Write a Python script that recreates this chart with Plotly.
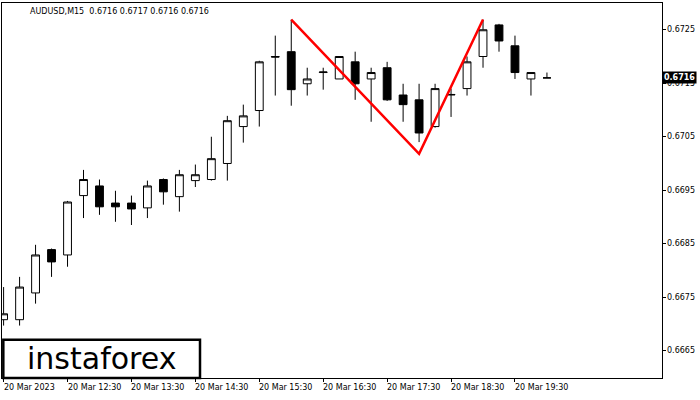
import plotly.graph_objects as go

opens  = [0.66708,0.66708,0.66758,0.66839,0.66829,0.6694,0.66958,0.66926,0.66926,0.66917,0.6697,0.66938,0.66968,0.6697,0.6700,0.67069,0.67099,0.6720,0.67209,0.67149,0.6717,0.67158,0.6719,0.67158,0.67179,0.67128,0.67119,0.67069,0.67128,0.6714,0.6720,0.67259,0.6722,0.67158,0.6716]
highs  = [0.66769,0.66788,0.66848,0.66841,0.6693,0.66988,0.6697,0.66949,0.6694,0.66968,0.66972,0.66988,0.66998,0.6705,0.67089,0.6711,0.67192,0.67239,0.67269,0.67179,0.67179,0.6720,0.67209,0.67179,0.6719,0.67149,0.67149,0.67149,0.6714,0.6720,0.67269,0.67261,0.67239,0.6717,0.6717]
lows   = [0.66697,0.66697,0.66738,0.66788,0.66807,0.66898,0.66904,0.66891,0.66885,0.66898,0.66923,0.6691,0.66956,0.66968,0.66968,0.67039,0.67069,0.67127,0.67108,0.67127,0.67138,0.67158,0.67119,0.67078,0.67117,0.67078,0.6704,0.67067,0.67087,0.67127,0.67179,0.67209,0.67158,0.67127,0.6716]
closes = [0.66719,0.66769,0.66829,0.66816,0.66928,0.6697,0.66919,0.66919,0.66915,0.66958,0.66947,0.66979,0.66979,0.67009,0.6708,0.67089,0.6719,0.67199,0.67138,0.67158,0.67171,0.6720,0.67149,0.6717,0.67119,0.6711,0.67057,0.6714,0.67129,0.6719,0.6725,0.67229,0.6717,0.6717,0.6716]
pattern_idx = [18, 26, 30]
pattern_px = [0.67269, 0.67018, 0.67269]
last_price = 0.6716
tick_idx = [0, 4, 8, 12, 16, 20, 24, 28, 32]
tick_text = ["20 Mar 2023","20 Mar 12:30","20 Mar 13:30","20 Mar 14:30","20 Mar 15:30","20 Mar 16:30","20 Mar 17:30","20 Mar 18:30","20 Mar 19:30"]
y_ticks = [0.6665, 0.6675, 0.6685, 0.6695, 0.6705, 0.6715, 0.6725]

x = list(range(len(opens)))
fig = go.Figure()
fig.add_trace(go.Candlestick(x=x, open=opens, high=highs, low=lows, close=closes,
    increasing=dict(fillcolor="white", line=dict(color="black", width=1)),
    decreasing=dict(fillcolor="black", line=dict(color="black", width=1)),
    whiskerwidth=0, showlegend=False, hoverinfo="skip"))
fig.add_trace(go.Scatter(x=pattern_idx, y=pattern_px, mode="lines",
    line=dict(color="red", width=2.5), showlegend=False, hoverinfo="skip"))
fig.add_hline(y=last_price, line=dict(color="black", width=1))

font = dict(family="DejaVu Sans", size=8, color="black")
ann = []
for i, t in zip(tick_idx, tick_text):
    ann.append(dict(text=t, x=i, xref="x", y=0, yref="paper", xanchor="left", yanchor="top",
                    yshift=-3, xshift=-2, showarrow=False, font=font))
for v in y_ticks:
    ann.append(dict(text=f"{v:.4f}", x=1, xref="paper", y=v, yref="y", xanchor="left",
                    yanchor="middle", xshift=3, showarrow=False, font=font))
ann += [
    dict(text="AUDUSD,M15  0.6716 0.6717 0.6716 0.6716", xref="paper", yref="paper",
         x=0.04, y=0.995, xanchor="left", yanchor="top", showarrow=False, font=font),
    dict(text="instaforex", xref="paper", yref="paper", x=0.15, y=0.051,
         xanchor="center", yanchor="middle", showarrow=False,
         font=dict(family="DejaVu Sans", size=30, color="black")),
    dict(text="<b>0.6716</b>", xref="paper", yref="y", x=1.0, y=last_price, xanchor="left",
         yanchor="middle", showarrow=False, bgcolor="black",
         font=dict(family="DejaVu Sans", size=8, color="white"), borderpad=1),
]

fig.update_layout(
    width=700, height=400, margin=dict(l=2, r=38, t=3, b=22, autoexpand=False),
    paper_bgcolor="white", plot_bgcolor="white", font=font,
    xaxis=dict(range=[-0.1, 41.2], rangeslider=dict(visible=False), tickvals=tick_idx,
               showticklabels=False, showgrid=False, zeroline=False, showline=True,
               linecolor="black", mirror=True, ticks="outside", ticklen=3, tickcolor="black"),
    yaxis=dict(range=[0.66599, 0.67300], side="right", tickvals=y_ticks,
               showticklabels=False, showgrid=False, zeroline=False,
               showline=True, linecolor="black", mirror=True, ticks="outside",
               ticklen=3, tickcolor="black"),
    shapes=[dict(type="rect", xref="paper", yref="paper", x0=0.002, x1=0.30, y0=0.0, y1=0.102,
                 line=dict(color="black", width=2.5), fillcolor="white", layer="above")],
    annotations=ann,
)
fig.write_html("out.html", config={"displayModeBar": False},
               post_script="document.body.style.margin='0';")
